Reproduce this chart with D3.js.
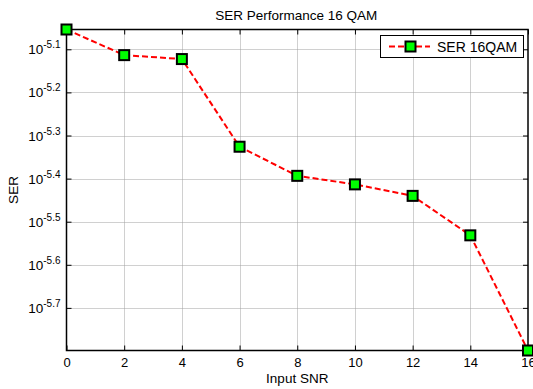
<!DOCTYPE html>
<html>
<head>
<meta charset="utf-8">
<script src="https://cdn.jsdelivr.net/npm/d3@7"></script>
<style>
  html, body { margin: 0; padding: 0; background: #fff; }
  svg { display: block; font-family: "Liberation Sans", Arial, Helvetica, sans-serif; }
</style>
</head>
<body>
<svg id="chart" width="533" height="389"></svg>
<script>
// Symbol error rate of 16-QAM versus input SNR
const snr = [0, 2, 4, 6, 8, 10, 12, 14, 16];
const ser = [8.83e-6, 7.70e-6, 7.54e-6, 4.72e-6, 4.04e-6, 3.86e-6, 3.63e-6, 2.94e-6, 1.589e-6];
const xTicks = [0, 2, 4, 6, 8, 10, 12, 14, 16];
const yTickExponents = [-5.1, -5.2, -5.3, -5.4, -5.5, -5.6, -5.7];
const seriesName = "SER 16QAM";

const W = 533, H = 389;
const margin = { left: 66.5, right: 5, top: 29.5, bottom: 38.5 };
const plotL = margin.left, plotR = W - margin.right;
const plotT = margin.top, plotB = H - margin.bottom;
const fontMain = 13;

const svg = d3.select("#chart");

const x = d3.scaleLinear().domain([0, 16]).range([plotL, plotR]);
const y = d3.scaleLog().domain(d3.extent(ser)).range([plotB, plotT]);
const yTicks = yTickExponents.map(e => Math.pow(10, e));

// grid
const grid = svg.append("g").attr("stroke", "#a0a0a0").attr("stroke-width", 1)
  .attr("stroke-dasharray", "1,1");
grid.selectAll("line.v").data(xTicks.filter(d => d > 0 && d < 16)).join("line")
  .attr("x1", d => Math.round(x(d)) + 0.5).attr("x2", d => Math.round(x(d)) + 0.5)
  .attr("y1", plotT).attr("y2", plotB);
grid.selectAll("line.h").data(yTicks).join("line")
  .attr("x1", plotL).attr("x2", plotR)
  .attr("y1", d => Math.round(y(d)) + 0.5).attr("y2", d => Math.round(y(d)) + 0.5);

// axes with inward ticks on all four sides
const tickLen = 5;
const xBottom = svg.append("g").attr("transform", `translate(0,${plotB})`)
  .call(d3.axisBottom(x).tickValues(xTicks).tickSize(-tickLen).tickPadding(7));
const xTop = svg.append("g").attr("transform", `translate(0,${plotT})`)
  .call(d3.axisTop(x).tickValues(xTicks).tickSize(-tickLen).tickFormat(""));
const yLeft = svg.append("g").attr("transform", `translate(${plotL},0)`)
  .call(d3.axisLeft(y).tickValues(yTicks).tickSize(-tickLen).tickFormat(""));
const yRight = svg.append("g").attr("transform", `translate(${plotR},0)`)
  .call(d3.axisRight(y).tickValues(yTicks).tickSize(-tickLen).tickFormat(""));

[xBottom, xTop, yLeft, yRight].forEach(g => {
  g.select(".domain").remove();
  g.selectAll(".tick line").attr("stroke", "#000").attr("stroke-width", 1);
});
xBottom.selectAll(".tick text").attr("font-size", fontMain).attr("fill", "#000")
  .attr("font-family", "Liberation Sans, Arial, sans-serif");

// y tick labels as 10 with a superscript exponent
yLeft.selectAll(".tick").each(function(d, i) {
  const t = d3.select(this).append("text")
    .attr("x", -6).attr("y", 4.5).attr("text-anchor", "end").attr("fill", "#000")
    .attr("font-family", "Liberation Sans, Arial, sans-serif");
  t.append("tspan").attr("font-size", 13.5).text("10");
  t.append("tspan").attr("font-size", 10).attr("dy", -6).text(yTickExponents[i].toString());
});

// axes box
svg.append("rect").attr("x", plotL).attr("y", plotT)
  .attr("width", plotR - plotL).attr("height", plotB - plotT)
  .attr("fill", "none").attr("stroke", "#000").attr("stroke-width", 1.5);

// series line
const pts = snr.map((s, i) => [s, ser[i]]);
svg.append("path").datum(pts)
  .attr("fill", "none").attr("stroke", "#ff0000").attr("stroke-width", 2)
  .attr("stroke-dasharray", "6,3")
  .attr("d", d3.line().x(d => x(d[0])).y(d => y(d[1])));

// markers
const ms = 10;
svg.selectAll("rect.mk").data(pts).join("rect").attr("class", "mk")
  .attr("x", d => x(d[0]) - ms / 2).attr("y", d => y(d[1]) - ms / 2)
  .attr("width", ms).attr("height", ms)
  .attr("fill", "#00ff00").attr("stroke", "#000").attr("stroke-width", 2);

// title and axis labels
svg.append("text").attr("x", (plotL + plotR) / 2 - 1).attr("y", 20)
  .attr("text-anchor", "middle").attr("font-size", 13.5).attr("fill", "#000")
  .text("SER Performance 16 QAM");
svg.append("text").attr("x", (plotL + plotR) / 2).attr("y", 383)
  .attr("text-anchor", "middle").attr("font-size", 13.5).attr("fill", "#000")
  .text("Input SNR");
svg.append("text")
  .attr("transform", `translate(18,${(plotT + plotB) / 2}) rotate(-90)`)
  .attr("text-anchor", "middle").attr("font-size", 13.5).attr("fill", "#000")
  .text("SER");

// legend
const lg = svg.append("g");
lg.append("rect").attr("x", 380.5).attr("y", 35.5).attr("width", 143).attr("height", 22)
  .attr("fill", "#fff").attr("stroke", "#000").attr("stroke-width", 1);
lg.append("line").attr("x1", 389).attr("x2", 430).attr("y1", 46.5).attr("y2", 46.5)
  .attr("stroke", "#ff0000").attr("stroke-width", 2).attr("stroke-dasharray", "6,3");
lg.append("rect").attr("x", 410.5 - ms / 2).attr("y", 46.5 - ms / 2)
  .attr("width", ms).attr("height", ms)
  .attr("fill", "#00ff00").attr("stroke", "#000").attr("stroke-width", 2);
lg.append("text").attr("x", 437).attr("y", 51.5).attr("font-size", 14).attr("fill", "#000")
  .text(seriesName);
</script>
</body>
</html>
